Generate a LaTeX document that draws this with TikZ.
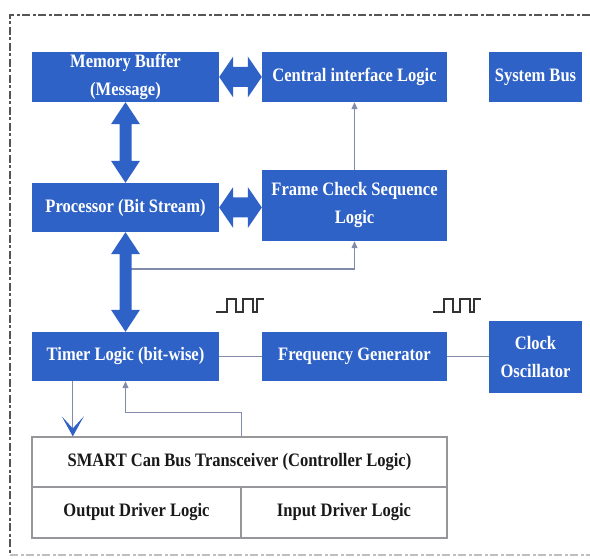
\documentclass[tikz,border=0pt]{standalone}
\usepackage{fontspec}
\setmainfont{Liberation Serif}[FakeStretch=0.87]
\usetikzlibrary{arrows.meta,calc}

\definecolor{blockblue}{RGB}{47,98,198}
\definecolor{wireline}{RGB}{128,140,170}
\definecolor{tableline}{RGB}{150,150,155}
\definecolor{frameline}{RGB}{85,85,85}

% Fat double-headed arrow between two blocks, horizontal
\newcommand\fatH[2]{%
  \fill[blockblue] let \p1=(#1.east), \p2=(#2.west) in
    (\x1,\y1) -- (\x1+14pt,\y1+20.5pt) -- (\x1+14pt,\y1+10pt)
    -- (\x2-14pt,\y1+10pt) -- (\x2-14pt,\y1+20.5pt) -- (\x2,\y1)
    -- (\x2-14pt,\y1-20.5pt) -- (\x2-14pt,\y1-10pt)
    -- (\x1+14pt,\y1-10pt) -- (\x1+14pt,\y1-20.5pt) -- cycle;}
% Fat double-headed arrow between two blocks, vertical
\newcommand\fatV[2]{%
  \fill[blockblue] let \p1=(#1.south), \p2=(#2.north) in
    (\x1,\y1) -- (\x1+14.5pt,\y1-22pt) -- (\x1+6pt,\y1-22pt)
    -- (\x1+6pt,\y2+22pt) -- (\x1+14.5pt,\y2+22pt) -- (\x1,\y2)
    -- (\x1-14.5pt,\y2+22pt) -- (\x1-6pt,\y2+22pt)
    -- (\x1-6pt,\y1-22pt) -- (\x1-14.5pt,\y1-22pt) -- cycle;}

\tikzset{
  block/.style={fill=blockblue, text=white, inner sep=0pt, align=center,
    font=\fontsize{19}{28}\selectfont\bfseries},
  cell/.style={draw=tableline, line width=1.2pt, inner sep=0pt, text=black!90,
    font=\fontsize{19}{28}\selectfont\bfseries},
  wire/.style={draw=wireline, line width=1.1pt},
  wirearrow/.style={wire, -{Triangle[length=7pt,width=6pt]}},
  chevron/.style={wire, -{Stealth[length=20pt,width=22pt,inset=12pt,blockblue]}},
  pulse/.style={draw=black!80, line width=1.6pt, line join=miter},
  border/.style={draw=frameline, line width=1.3pt, dash pattern=on 8pt off 2.5pt on 3pt off 2.5pt},
}

\begin{document}
\begin{tikzpicture}[x=1pt,y=-1pt]
\useasboundingbox (0,0) rectangle (590,559);

% dashed enclosure
\coordinate (fTL) at (10,15);
\coordinate (fTR) at (590,15);
\coordinate (fBL) at (10,555);
\coordinate (fBR) at (590,555);
\draw[border] (fTR) -- (fTL) -- (fBL);
\draw[border, draw=black!25] (fBL) -- (fBR);

% blocks
\node[block, minimum width=187pt, minimum height=50pt] (mem)  at (125.5,77)  {Memory Buffer\\(Message)};
\node[block, minimum width=185pt, minimum height=50pt] (cen)  at (354.5,77)  {Central interface Logic};
\node[block, minimum width=93pt,  minimum height=50pt] (sys)  at (535.5,77)  {System Bus};
\node[block, minimum width=187pt, minimum height=49pt] (proc) at (125.5,207.5) {Processor (Bit Stream)};
\node[block, minimum width=185pt, minimum height=71pt] (fcs)  at (354.5,205.5) {Frame Check Sequence\\Logic};
\node[block, minimum width=187pt, minimum height=49pt] (tim)  at (125.5,356.5) {Timer Logic (bit-wise)};
\node[block, minimum width=185pt, minimum height=49pt] (freq) at (354.5,356.5) {Frequency Generator};
\node[block, minimum width=93pt,  minimum height=72pt] (clk)  at (535.5,357)  {Clock\\Oscillator};

% transceiver table
\node[cell, minimum width=415pt, minimum height=50pt] (trx) at (239.5,462) {SMART Can Bus Transceiver (Controller Logic)};
\node[cell, minimum width=209pt, minimum height=51pt] (out) at (136.5,512.5) {Output Driver Logic};
\node[cell, minimum width=206pt, minimum height=51pt] (inp) at (344,512.5) {Input Driver Logic};

% thin connectors
\coordinate (tap) at (125.5,269);
\draw[wirearrow] (tap) -| (fcs.south);
\draw[wirearrow] (fcs.north) -- (cen.south);
\draw[wire] (tim.east) -- (freq.west);
\draw[wire] (freq.east) -- (freq.east -| clk.west);
\coordinate (down) at ($(tim.south west)+(41,0)$);
\draw[chevron] (down) -- (down |- trx.north);
\draw[wirearrow] (trx.north -| out.east) -- ++(0,-24) -| (tim.south);

% fat bidirectional buses
\fatH{mem}{cen}
\fatH{proc}{fcs}
\fatV{mem}{proc}
\fatV{proc}{tim}

% clock pulse symbols
\coordinate (p1) at (216,312);
\coordinate (p2) at (433,312);
\foreach \p in {p1,p2}{
  \draw[pulse] (\p) -- ++(11,0) -- ++(0,-13) -- ++(9,0) -- ++(0,13) -- ++(7,0)
    -- ++(0,-13) -- ++(10,0) -- ++(0,13) -- ++(4,0) -- ++(0,-13) -- ++(7,0);
}
\end{tikzpicture}
\end{document}
